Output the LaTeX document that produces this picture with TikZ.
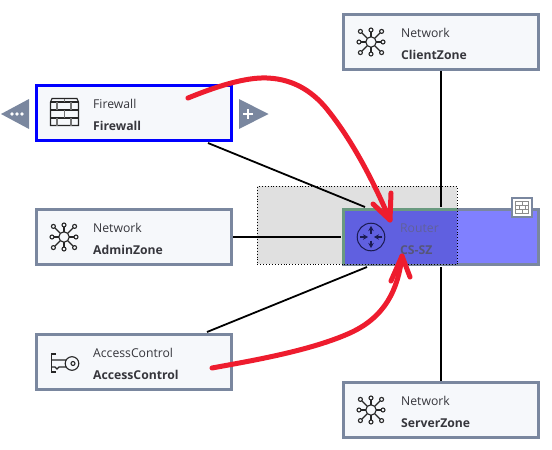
\documentclass[tikz,border=0pt]{standalone}
\usepackage{fontspec}
\setmainfont{Open Sans}
\usetikzlibrary{arrows.meta}
\definecolor{bordergray}{HTML}{7A879F}
\definecolor{boxfill}{HTML}{F6F8FB}
\definecolor{redpen}{HTML}{EE1C2E}
\definecolor{txt}{HTML}{36363C}
\definecolor{selgreen}{HTML}{6A9A80}
\definecolor{routerblue}{HTML}{8080FF}
\definecolor{overlapblue}{HTML}{6060E0}
\definecolor{routernavy}{HTML}{1A1A50}
\definecolor{routertype}{HTML}{60609A}
\definecolor{routername}{HTML}{565678}
\tikzset{
  x=1pt,y=-1pt,
  box/.style={draw=bordergray,line width=3pt,fill=boxfill,minimum width=195pt,minimum height=55pt,inner sep=0pt,outer sep=1.5pt,anchor=north west},
  typelabel/.style={anchor=base west,font=\fontsize{12.2}{14}\selectfont,text=txt,inner sep=0pt},
  namelabel/.style={anchor=base west,font=\fontsize{12.2}{14}\selectfont\bfseries,text=txt,inner sep=0pt},
  conn/.style={black,line width=1.8pt},
  pen/.style={redpen,line width=5pt,line cap=round,line join=round},
  icon/.style={black!85,line width=1.1pt},
  rarrow/.style={routernavy,line width=1.3pt,-{Stealth[length=5pt,width=5.5pt]}},
  pics/netico/.style={code={
    \draw[icon] (0,0) circle (5.2);
    \foreach \a in {0,90,180,270}{
      \draw[icon] (\a:5.2) -- (\a:10);
      \draw[icon,fill=boxfill] (\a:12) circle (2);
    }
    \foreach \a in {45,135,225,315}{
      \draw[icon] (\a:5.2) -- (\a:13);
      \draw[icon,fill=boxfill] (\a:15) circle (2);
    }
  }},
}
\begin{document}
\begin{tikzpicture}
\useasboundingbox (0,0) rectangle (552,450);
% router base
\node[box,fill=routerblue] (router) at (342,208) {};
% selection rectangle, with the overlap on the router
\fill[black!12] (257,186) rectangle (342,264);
\fill[black!12] (342,186) rectangle (457,208);
\fill[overlapblue] (345,211) rectangle (457,263.5);
\fill[selgreen] (342,208) rectangle (457,211);
\fill[selgreen] (342,208) rectangle (345,264);
\node[draw=black,dotted,line width=.9pt,anchor=north west,minimum width=200pt,minimum height=78pt,inner sep=0pt] (sel) at (257,186) {};
\node[box] (client) at (342,13) {};
\node[box] (server) at (342,381) {};
\node[box] (admin) at (35,208) {};
\node[box] (access) at (35,333) {};
\node[box,draw={rgb,255:red,0;green,0;blue,255}] (fw) at (35,84) {};
% connector ends
\coordinate (fwexit) at (208,143);
\coordinate (routerfw) at (365,207);
\coordinate (acexit) at (207,332);
\coordinate (routerac) at (367,267);
\coordinate (routeradm) at (341,237);
\coordinate (routertop) at (441,207);
\coordinate (routerbot) at (441,267);
\draw[conn] (fwexit) -- (routerfw);
\draw[conn] (acexit) -- (routerac);
\draw[conn] (admin.east) -- (routeradm);
\draw[conn] (client.south -| routertop) -- (routertop);
\draw[conn] (routerbot) -- (server.north -| routerbot);
% labels
\node[typelabel] (t1) at (401,37) {Network};
\node[namelabel] (n1) at (401,59) {ClientZone};
\node[typelabel] (t2) at (401,405) {Network};
\node[namelabel] (n2) at (401,427) {ServerZone};
\node[typelabel] (t3) at (93,232) {Network};
\node[namelabel] (n3) at (93,254) {AdminZone};
\node[typelabel] (t4) at (93,357) {AccessControl};
\node[namelabel] (n4) at (93,379) {AccessControl};
\node[typelabel] (t5) at (93,108) {Firewall};
\node[namelabel] (n5) at (93,130) {Firewall};
\node[typelabel,text=routertype] (t6) at (400,232) {Router};
\node[namelabel,text=routername] (n6) at (400,254) {CS-SZ};
% network icons
\pic at (371,42) {netico};
\pic at (371,410) {netico};
\pic at (64,237) {netico};
% firewall icon
\begin{scope}[icon]
\draw (50.5,102) -- (52,98.5) -- (77,98.5) -- (78.5,102) -- (78.5,125.5) -- (50.5,125.5) -- cycle;
\draw (50.5,102) -- (78.5,102) (50.5,110) -- (78.5,110) (50.5,118) -- (78.5,118);
\end{scope}
\begin{scope}[black!55,line width=1.4pt]
\draw (64.5,98.5) -- (64.5,102) (57,102) -- (57,110) (71,102) -- (71,110) (64.5,110) -- (64.5,118) (57,118) -- (57,125.5) (71,118) -- (71,125.5);
\end{scope}
% key icon
\begin{scope}[icon]
\draw (56,354) -- (51.5,354) -- (51.5,372) -- (56,372);
\draw (51.5,360) -- (66,360) (51.5,367) -- (55,367) -- (57,369) -- (59,367) -- (66,367);
\draw (72,363.5) circle (6.8);
\draw (73,363.5) circle (2);
\end{scope}
% router icon
\draw[routernavy,line width=1pt] (371,237) circle (13.8);
\draw[rarrow] (371,233.5) -- (371,226);
\draw[rarrow] (371,240.5) -- (371,248);
\draw[rarrow] (360,237) -- (368,237);
\draw[rarrow] (382,237) -- (374,237);
% small table badge
\node[draw=bordergray,line width=2.4pt,fill=white,minimum width=19.5pt,minimum height=19pt,inner sep=0pt] (badge) at (522,207.5) {};
\begin{scope}[black!45,line width=.8pt]
\draw (515.5,201.5) rectangle (528.5,213.5);
\draw (515.5,205.5) -- (528.5,205.5) (515.5,209.5) -- (528.5,209.5) (522,201.5) -- (522,205.5) (519,205.5) -- (519,209.5) (525,205.5) -- (525,209.5) (522,209.5) -- (522,213.5);
\end{scope}
% handles
\fill[bordergray] (29,99) -- (29,129) -- (1,114) -- cycle;
\foreach \x in {12,17,22}{\fill[white] (\x,114) circle (1.9);}
\fill[bordergray] (239,99) -- (239,129) -- (268.5,114) -- cycle;
\draw[white,line width=2pt] (243,114) -- (253,114) (248,109) -- (248,119);
% red pen strokes
\coordinate (s1) at (188,98);
\coordinate (e1) at (390,220);
\coordinate (s2) at (212,368);
\coordinate (e2) at (402,256);
\draw[pen] (s1) .. controls (215,87) and (245,77) .. (267,78) .. controls (295,79) and (315,93) .. (330,113) .. controls (355,145) and (375,185) .. (e1);
\draw[pen] (373,204) -- (e1) -- (391,193);
\draw[pen] (s2) .. controls (250,361) and (310,351) .. (350,333) .. controls (385,317) and (398,290) .. (e2);
\draw[pen] (391,281) -- (e2) -- (410,277);
\end{tikzpicture}
\end{document}
